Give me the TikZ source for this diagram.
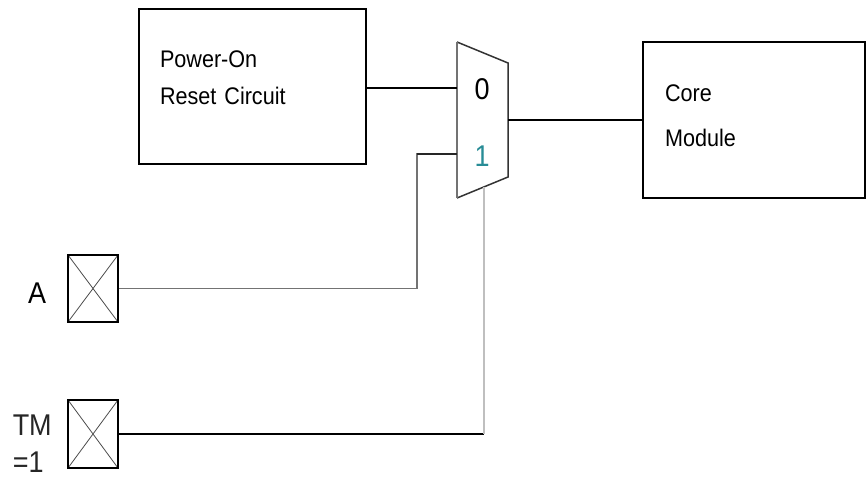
\documentclass[tikz,border=0pt]{standalone}
\usepackage{fontspec}
\setmainfont{Liberation Sans}
\newfontfamily\narrowfont[FakeStretch=0.9]{Liberation Sans}
\usepackage{tikz}
\usetikzlibrary{arrows.meta,calc}

\definecolor{selteal}{RGB}{40,140,150}

\begin{document}
\begin{tikzpicture}[x=1pt, y=-1pt, line width=1.5pt,
    blockbox/.style={draw, align=left, inner ysep=0pt,
      font=\narrowfont\fontsize{24}{37}\selectfont},
    padbox/.style={draw, minimum width=50pt, minimum height=67pt, inner sep=0pt,
      path picture={\draw[line width=0.8pt, black!70]
        (path picture bounding box.north west) -- (path picture bounding box.south east)
        (path picture bounding box.south west) -- (path picture bounding box.north east);}},
    padlabel/.style={inner sep=0pt, font=\narrowfont\fontsize{30}{37}\selectfont},
    wire/.style={line width=1.5pt},
    greywire/.style={line width=1.5pt, black!55}]
    \useasboundingbox (0,0) rectangle (866,481);

    % 方框
    \node[blockbox, minimum width=227pt, minimum height=155pt,
      inner xsep=21pt, text width=185pt, text depth=55pt] (por) at (252.5,86.5)
      {Power-On\\Reset Circuit};
    \node[blockbox, minimum width=222pt, minimum height=156pt,
      inner xsep=22pt, text width=178pt, text depth=53pt,
      font=\narrowfont\fontsize{24}{45}\selectfont]
      (core) at (754,120) {Core\\Module};

    % 选择器
    \coordinate (mnw) at (457,42);
    \coordinate (mne) at (508,63);
    \coordinate (mse) at (508,177);
    \coordinate (msw) at (457,198);
    \draw[black!80] (mnw) -- (mne) -- (mse) -- (msw);
    \draw[black!55] (msw) -- (mnw);
    \coordinate (in0) at (457,88);
    \coordinate (in1) at (457,154);
    \coordinate (mout) at (508,120);
    \coordinate (msel) at (484,187);
    \node[padlabel] (zero) at (482,89) {0};
    \node[padlabel, text=selteal] (one) at (482,156) {1};

    % 管脚
    \node[padbox] (pa) at (93,288.5) {};
    \node[padbox, minimum height=68pt] (ptm) at (93,434) {};
    \node[padlabel, anchor=base east] (la) at (47,303) {A};
    \node[padlabel, anchor=base west, align=left, text=black!85] (ltm) at (12,472) {TM\\=1};

    % 连线
    \draw[wire] (por.east |- in0) -- (in0);
    \draw[wire] (mout) -- (core.west);
    \coordinate (abend) at (417,154);
    \draw[greywire] (pa.east) -| (abend) -- (in1);
    \draw[wire, black!85] (in1) -- ++(-40,0);
    \coordinate (tmbend) at (484,434);
    \draw[wire] (ptm.east) -- (tmbend);
    \draw[line width=1.2pt, black!25] (tmbend) -- (msel);
\end{tikzpicture}
\end{document}
